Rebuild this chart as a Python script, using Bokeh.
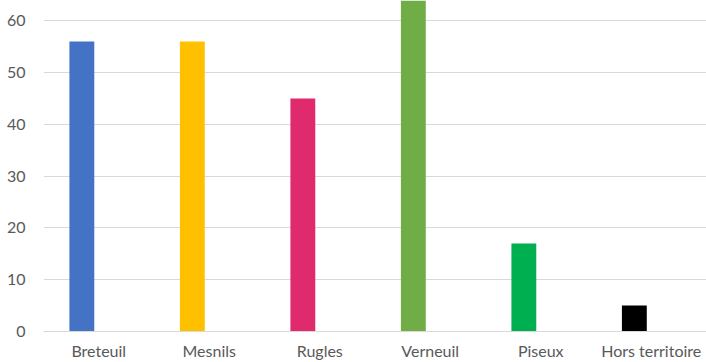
from bokeh.plotting import figure
from bokeh.models import ColumnDataSource, FactorRange, Range1d
from bokeh.transform import dodge
from bokeh.embed import file_html
from bokeh.resources import INLINE

categories = ["Breteuil", "Mesnils", "Rugles", "Verneuil", "Piseux", "Hors territoire"]
values = [56, 56, 45, 66, 17, 5]
colors = ["#4472C4", "#FFC000", "#DF2B6E", "#70AD47", "#00B050", "#000000"]
y_ticks = [0, 10, 20, 30, 40, 50, 60]

src = ColumnDataSource(dict(cat=categories, val=values, color=colors))

p = figure(
    width=706, height=362,
    x_range=FactorRange(factors=categories, range_padding=0),
    y_range=Range1d(0, 63.9),
    output_backend="svg", toolbar_location=None,
    min_border_left=43, min_border_right=0, min_border_top=0, min_border_bottom=31,
)
p.outline_line_color = None
p.background_fill_color = "white"

p.vbar(x=dodge("cat", -0.153, range=p.x_range), top="val", width=0.225,
       source=src, color="color", line_color=None)

p.xgrid.grid_line_color = None
p.ygrid.grid_line_color = "#D9D9D9"
p.ygrid.grid_line_width = 1
p.yaxis.ticker = y_ticks

for ax in (p.xaxis, p.yaxis):
    ax.major_tick_line_color = None
    ax.minor_tick_line_color = None
    ax.major_tick_out = 0
    ax.major_tick_in = 0
    ax.minor_tick_out = 0
    ax.minor_tick_in = 0
    ax.major_label_text_font = "Lato"
    ax.major_label_text_font_size = "16px"
    ax.major_label_text_color = "#595959"

p.yaxis.axis_line_color = None
p.yaxis.major_label_standoff = 18
p.xaxis.axis_line_color = "#D9D9D9"
p.xaxis.major_label_standoff = 9
p.x_range.factor_padding = 0

open("out.html", "w").write(file_html(p, INLINE))
